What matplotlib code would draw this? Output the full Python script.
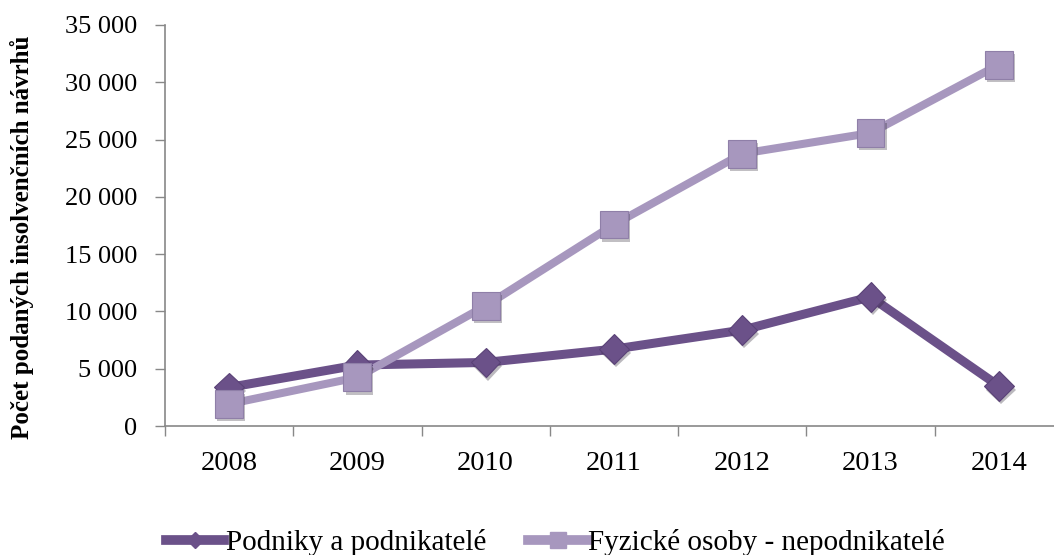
import matplotlib.pyplot as plt
import matplotlib.patheffects as pe
from matplotlib.lines import Line2D
from matplotlib.ticker import FuncFormatter, FixedLocator

# data
years = ['2008', '2009', '2010', '2011', '2012', '2013', '2014']
podniky = [3370, 5320, 5550, 6710, 8370, 11270, 3490]
fyzicke = [1920, 4250, 10490, 17580, 23770, 25570, 31530]
series_labels = ['Podniky a podnikatelé', 'Fyzické osoby - nepodnikatelé']
y_label = 'Počet podaných insolvenčních návrhů'

dark = '#6b5189'
light = '#a797be'

plt.rcParams['font.family'] = ['Liberation Serif', 'DejaVu Serif']

fig = plt.figure(figsize=(10.54, 5.55), dpi=100)
ax = fig.add_axes([0.1565, 0.2324, 0.852, 0.7226])

x = list(range(len(years)))
shadow = [pe.SimplePatchShadow(offset=(1.5, -2.5), alpha=0.3), pe.Normal()]

# lines first, markers on top with a soft drop shadow
ax.plot(x, podniky, color=dark, lw=6.5, solid_capstyle='butt', zorder=3)
ax.plot(x, fyzicke, color=light, lw=5.8, solid_capstyle='butt', zorder=4)
ax.plot(x, podniky, ls='none', marker='D', markersize=15, markerfacecolor=dark,
        markeredgecolor='#5a4277', markeredgewidth=0.8, zorder=5, path_effects=shadow)
ax.plot(x, fyzicke, ls='none', marker='s', markersize=20, markerfacecolor=light,
        markeredgecolor='#8f7fa8', markeredgewidth=0.8, zorder=6, path_effects=shadow)

ax.set_xlim(-0.5, len(years) - 0.5)
ax.set_ylim(0, 35000)
ax.set_yticks(range(0, 35001, 5000))
ax.yaxis.set_major_formatter(FuncFormatter(lambda v, p: f'{int(v):,}'.replace(',', ' ')))

ax.set_xticks(x)
ax.set_xticklabels(years)
ax.xaxis.set_minor_locator(FixedLocator([i + 0.5 for i in range(-1, len(years))]))
ax.tick_params(axis='x', which='major', length=0, pad=18, labelsize=20.5)
ax.tick_params(axis='x', which='minor', length=7, color='#888888', width=1, direction='out')
ax.tick_params(axis='y', length=7, color='#888888', width=1, pad=13, labelsize=19)

for s in ['top', 'right']:
    ax.spines[s].set_visible(False)
for s in ['left', 'bottom']:
    ax.spines[s].set_color('#888888')
    ax.spines[s].set_linewidth(1.2)

fig.text(0.021, 0.572, y_label, rotation=90, ha='center', va='center',
         fontsize=18, fontweight='bold')

handles = [
    Line2D([], [], color=dark, lw=7, marker='D', markersize=8, markerfacecolor=dark, markeredgecolor=dark),
    Line2D([], [], color=light, lw=7, marker='s', markersize=11, markerfacecolor=light, markeredgecolor=light),
]
fig.legend(handles, series_labels, loc='center', bbox_to_anchor=(0.527, 0.022), ncol=2,
           frameon=False, fontsize=21, handlelength=2.0, handletextpad=0.05,
           columnspacing=1.45, borderpad=0)

fig.savefig('out.png', dpi=100)
